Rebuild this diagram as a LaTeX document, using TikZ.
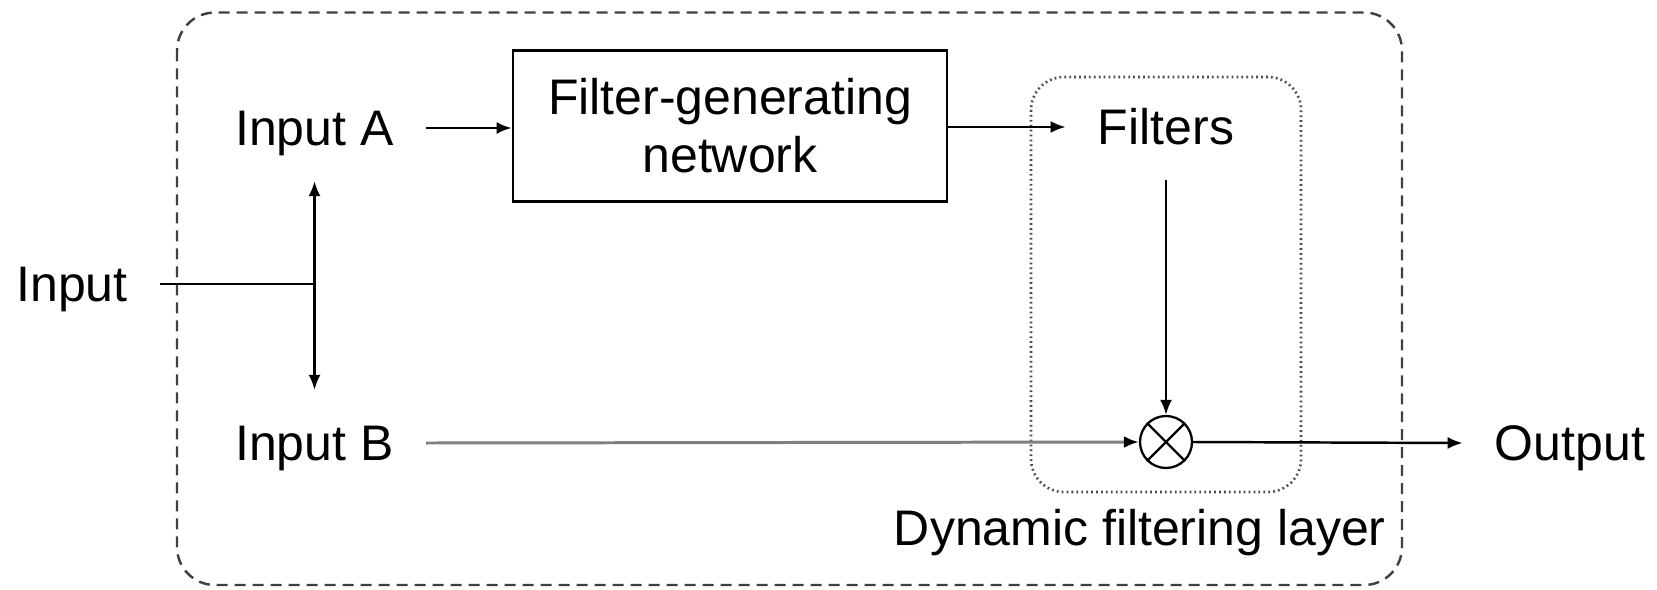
\documentclass[tikz,border=0pt]{standalone}
\usepackage{fontspec}
\setmainfont{Liberation Sans}
\usetikzlibrary{arrows.meta}
\begin{document}
\begin{tikzpicture}[x=0.02cm,y=-0.02cm,
  txt/.style={font=\fontsize{28.45}{33}\selectfont},
  lbl/.style={txt, inner xsep=0.64cm, inner ysep=0.5cm, text height=0.9cm, text depth=0.21cm},
  wire/.style={line width=1.4pt},
  conn/.style={wire, -{Latex[length=0.3cm,width=0.24cm,color=black]}},
  greywire/.style={draw=black!50, line width=1.7pt},
  fgbox/.style={txt, draw, line width=1.6pt, minimum width=8.68cm, minimum height=3.02cm, align=center, inner sep=0pt},
  mult/.style={circle, draw, line width=1.3pt, minimum size=1.04cm, inner sep=0pt},
  outerframe/.style={draw=black!75, line width=1.4pt, dash pattern=on 0.22cm off 0.14cm, rounded corners=0.76cm},
  layerframe/.style={draw=black!70, line width=1.5pt, dash pattern=on 1pt off 1.8pt, rounded corners=0.66cm}
]
\useasboundingbox (0,0) rectangle (1657,589);

% enclosing module and the dynamic filtering layer
\draw[outerframe] (177,12.5) rectangle (1402,585);
\draw[layerframe] (1031,77) rectangle (1301,492);

% labels
\node[lbl] (in) at (72,284) {Input};
\node[lbl] (ina) at (314.5,128) {Input A};
\node[lbl] (inb) at (314.5,443) {Input B};
\node[lbl] (filt) at (1166,127) {Filters};
\node[lbl] (out) at (1570,443) {Output};
\node[fgbox] (fgn) at (730,126) {Filter-generating\\network};
\node[txt, anchor=base east, inner sep=0pt] (title) at (1386,545) {Dynamic filtering layer};

% multiplication node
\node[mult] (mul) at (1166,442) {};
\draw[line width=1.3pt] (mul.45) -- (mul.225) (mul.135) -- (mul.315);

% connectors
\coordinate (split) at (ina.south |- in.east);
\draw[wire] (in.east) -- (split);
\draw[conn] (split) -- (ina.south);
\draw[conn] (split) -- (inb.north);
\draw[conn] (ina.east) -- (ina.east -| fgn.west);
\draw[conn] (fgn.east |- filt.west) -- (filt.west);
\draw[conn] (filt.south) -- (mul.north);
\draw[conn, greywire] (inb.east) -- (mul.west);
\draw[conn] (mul.east) -- (out.west);
\end{tikzpicture}
\end{document}
